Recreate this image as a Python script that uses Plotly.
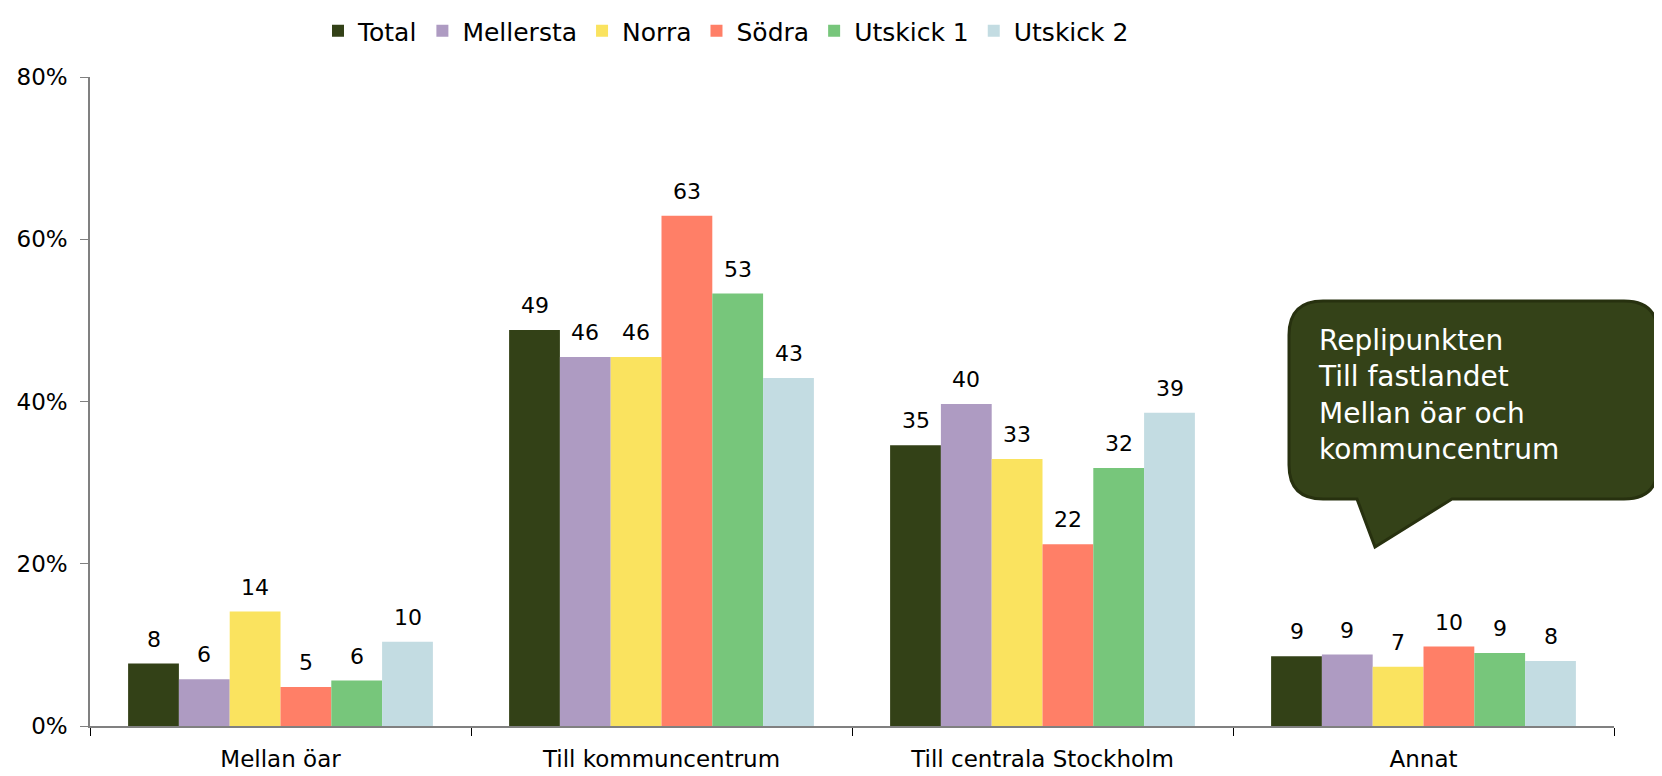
import plotly.graph_objects as go

categories = ["Mellan öar", "Till kommuncentrum", "Till centrala Stockholm", "Annat"]
series_names = ["Total", "Mellersta", "Norra", "Södra", "Utskick 1", "Utskick 2"]
total = [7.7, 48.8, 34.6, 8.6]
mellersta = [5.75, 45.5, 39.7, 8.8]
norra = [14.1, 45.5, 32.9, 7.3]
sodra = [4.8, 62.9, 22.4, 9.8]
utskick1 = [5.6, 53.3, 31.8, 9.0]
utskick2 = [10.4, 42.9, 38.6, 8.0]
y_ticks = [0, 20, 40, 60, 80]
y_tick_labels = ["0%", "20%", "40%", "60%", "80%"]
callout_lines = ["Replipunkten", "Till fastlandet", "Mellan öar och", "kommuncentrum"]

series_values = [total, mellersta, norra, sodra, utskick1, utskick2]
colors = ["#334117", "#AE9BC2", "#FAE35F", "#FF7F67", "#77C67B", "#C3DCE2"]

W, H = 1662, 776
OFF = 8  # page body margin
# plot area in page pixels: x 90..1614, y 77..726
L, R, T, B = 90 - OFF, W - 1614 + OFF, 77 - OFF, H - 726 + OFF
PW, PH = W - L - R, H - T - B
FONT = "DejaVu Sans"
BARGAP = 0.2
n_series = len(series_names)
bar_px = PW / len(categories) * (1 - BARGAP) / n_series

fig = go.Figure()
for i, (name, vals, col) in enumerate(zip(series_names, series_values, colors)):
    fig.add_trace(go.Bar(
        x=categories, y=vals, name=name, marker_color=col,
        marker_line_width=0,
    ))
    for c, v in zip(categories, vals):
        fig.add_annotation(
            x=c, y=v, xref="x", yref="y", text=f"{round(v):d}", showarrow=False,
            xshift=(i - (n_series - 1) / 2) * bar_px, yanchor="bottom", yshift=10,
            font=dict(size=22, color="#000000", family=FONT),
        )

def px(x):
    return (x - 90) / PW

def py(y):
    return (726 - y) / PH

# Callout bubble (decoration) in page-pixel-derived paper coords
x0, x1, y0, y1, r = 1289, 1658, 301, 499, 34
tail = [(1357, 499), (1375, 547), (1452, 499)]
path = (
    f"M {px(x0 + r)},{py(y0)} L {px(x1 - r)},{py(y0)} "
    f"Q {px(x1)},{py(y0)} {px(x1)},{py(y0 + r)} "
    f"L {px(x1)},{py(y1 - r)} Q {px(x1)},{py(y1)} {px(x1 - r)},{py(y1)} "
    f"L {px(tail[2][0])},{py(tail[2][1])} L {px(tail[1][0])},{py(tail[1][1])} "
    f"L {px(tail[0][0])},{py(tail[0][1])} "
    f"L {px(x0 + r)},{py(y1)} Q {px(x0)},{py(y1)} {px(x0)},{py(y1 - r)} "
    f"L {px(x0)},{py(y0 + r)} Q {px(x0)},{py(y0)} {px(x0 + r)},{py(y0)} Z"
)
fig.add_shape(type="path", path=path, xref="paper", yref="paper",
              fillcolor="#344218", line=dict(color="#27310f", width=3), layer="above")
fig.add_annotation(
    x=px(1316), y=py(322), xref="paper", yref="paper",
    xanchor="left", yanchor="top", align="left", showarrow=False,
    text="<br>".join(callout_lines),
    font=dict(family=FONT, size=28, color="#FFFFFF"),
)

fig.update_layout(
    width=W, height=H,
    margin=dict(l=L, r=R, t=T, b=B, autoexpand=False),
    barmode="group", bargap=BARGAP, bargroupgap=0,
    plot_bgcolor="white", paper_bgcolor="white",
    font=dict(family=FONT, size=23, color="#000000"),
    showlegend=True,
    legend=dict(orientation="h", x=px(318), xanchor="left", y=py(OFF),
                yanchor="top", font=dict(size=25), itemwidth=30,
                traceorder="normal", bgcolor="rgba(0,0,0,0)"),
    xaxis=dict(showline=True, linecolor="#808080", linewidth=1.5,
               ticks="outside", tickson="boundaries", ticklen=8, tickcolor="#000000",
               showgrid=False, tickfont=dict(size=23), ticklabelstandoff=12),
    yaxis=dict(range=[0, 80], tickmode="array", tickvals=y_ticks, ticktext=y_tick_labels,
               showline=True, linecolor="#808080", linewidth=1.5,
               ticks="outside", ticklen=8, tickcolor="#808080",
               showgrid=False, zeroline=False, tickfont=dict(size=23),
               ticklabelstandoff=8),
)

fig.write_html("out.html")
